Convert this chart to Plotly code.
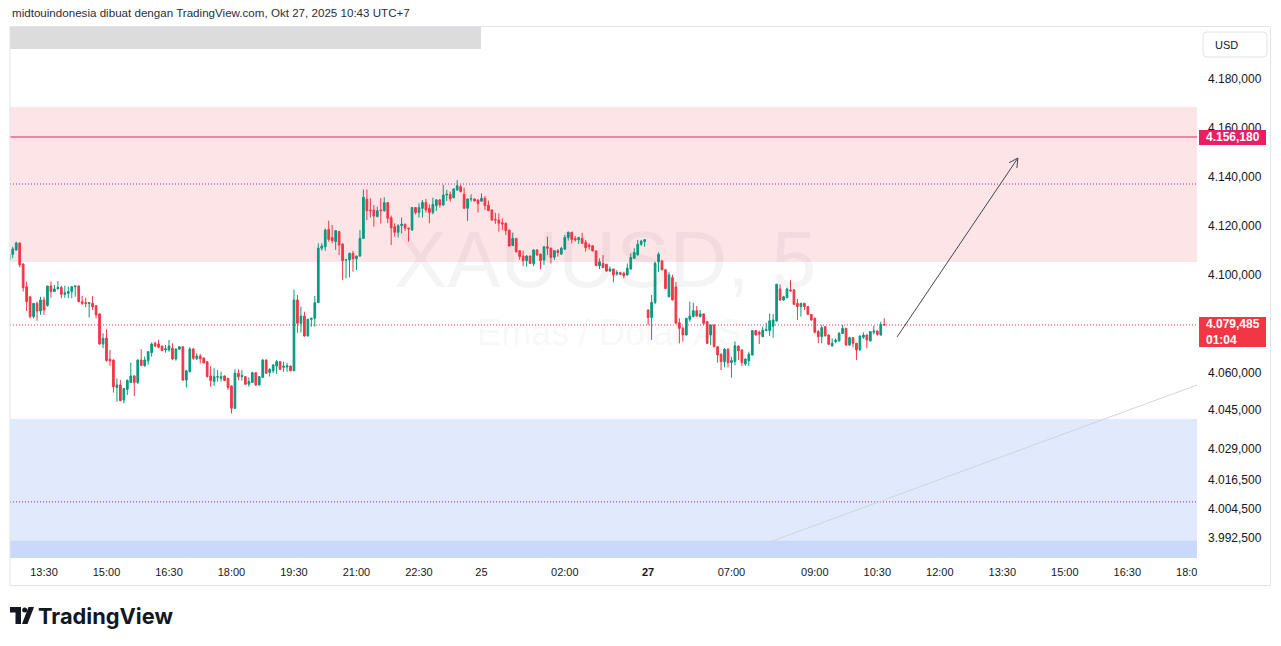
import math
import plotly.graph_objects as go

# ---------------- data (XAUUSD 5m) ----------------
bar_index = list(range(-10, 243))

opens = [
 4106.0, 4108.3, 4110.1, 4112.9, 4104.4, 4095.1, 4091.0, 4082.9, 4088.3, 4085.2,
 4089.7, 4087.4, 4095.4, 4093.1, 4094.2, 4094.8, 4092.0, 4092.4, 4093.1, 4095.1,
 4095.4, 4089.0, 4088.6, 4088.2, 4088.3, 4087.4, 4084.0, 4071.7, 4074.2, 4065.5,
 4065.2, 4054.0, 4055.0, 4048.9, 4053.2, 4056.0, 4058.7, 4056.0, 4065.2, 4062.8,
 4064.9, 4068.2, 4072.0, 4071.7, 4070.9, 4069.3, 4069.3, 4070.0, 4065.6, 4069.6,
 4070.6, 4057.0, 4060.4, 4069.7, 4065.7, 4066.8, 4066.0, 4064.5, 4058.7, 4056.4,
 4058.2, 4057.7, 4058.7, 4057.7, 4054.6, 4045.5, 4059.8, 4058.4, 4058.4, 4055.3,
 4056.0, 4060.0, 4055.0, 4058.1, 4065.2, 4060.1, 4060.8, 4062.7, 4064.5, 4062.2,
 4062.3, 4062.7, 4060.8, 4089.7, 4080.2, 4083.1, 4075.0, 4081.8, 4082.2, 4088.6,
 4110.8, 4111.4, 4118.5, 4115.2, 4113.5, 4117.6, 4112.5, 4106.0, 4106.0, 4108.7,
 4106.5, 4107.6, 4114.8, 4130.8, 4126.4, 4126.4, 4123.7, 4126.4, 4126.1, 4129.4,
 4123.2, 4119.6, 4117.3, 4120.0, 4120.6, 4119.0, 4118.2, 4127.4, 4125.4, 4127.1,
 4129.5, 4127.1, 4125.4, 4128.2, 4130.5, 4128.4, 4132.5, 4132.8, 4131.4, 4134.6,
 4135.9, 4132.8, 4127.1, 4130.9, 4130.9, 4130.5, 4130.0, 4131.2, 4128.4, 4126.4,
 4122.6, 4122.3, 4121.2, 4121.0, 4118.2, 4111.9, 4114.8, 4109.8, 4107.6, 4105.7,
 4107.6, 4104.6, 4110.1, 4108.4, 4106.0, 4111.4, 4110.8, 4107.1, 4109.8, 4108.4,
 4110.4, 4115.2, 4117.3, 4114.8, 4114.2, 4114.8, 4113.2, 4112.1, 4111.8, 4109.7,
 4103.7, 4104.6, 4104.2, 4101.5, 4102.3, 4100.3, 4100.8, 4100.6, 4099.9, 4102.3,
 4106.7, 4108.1, 4112.4, 4113.5, 4085.6, 4082.5, 4088.7, 4105.3, 4105.6, 4102.0,
 4091.0, 4098.8, 4095.0, 4080.4, 4078.1, 4075.4, 4081.8, 4082.9, 4085.3, 4082.9,
 4084.0, 4080.8, 4075.4, 4079.5, 4070.6, 4067.6, 4064.5, 4069.6, 4064.1, 4064.6,
 4070.9, 4069.3, 4063.6, 4064.9, 4067.2, 4077.2, 4076.5, 4074.7, 4077.2, 4077.2,
 4079.0, 4081.1, 4094.2, 4089.7, 4090.6, 4093.8, 4093.8, 4088.3, 4087.0, 4088.3,
 4087.0, 4083.8, 4082.2, 4076.8, 4074.7, 4078.8, 4075.4, 4071.0, 4072.7, 4073.0,
 4076.0, 4078.1, 4071.3, 4074.3, 4072.0, 4069.3, 4074.5, 4075.4, 4073.0, 4076.5,
 4077.0, 4075.4, 4079.7,
]

highs = [
 4109.0, 4111.4, 4113.5, 4113.2, 4104.6, 4097.2, 4091.0, 4088.3, 4089.0, 4091.0,
 4091.0, 4095.4, 4097.2, 4095.8, 4097.4, 4095.5, 4095.5, 4095.1, 4095.4, 4095.6,
 4095.6, 4091.4, 4090.6, 4088.8, 4091.3, 4087.6, 4084.2, 4076.1, 4077.7, 4069.3,
 4065.4, 4057.7, 4057.0, 4053.8, 4057.3, 4064.1, 4058.9, 4065.4, 4069.6, 4066.6,
 4068.8, 4072.3, 4072.7, 4073.4, 4071.0, 4071.3, 4073.4, 4072.0, 4069.9, 4070.8,
 4070.8, 4061.0, 4070.4, 4070.0, 4067.9, 4067.6, 4066.2, 4064.7, 4062.7, 4061.8,
 4061.1, 4060.4, 4058.9, 4057.9, 4054.8, 4061.4, 4061.4, 4061.1, 4058.6, 4058.1,
 4060.4, 4060.2, 4058.6, 4065.5, 4065.4, 4061.8, 4063.4, 4065.2, 4064.7, 4064.5,
 4064.1, 4062.9, 4094.0, 4091.7, 4087.0, 4084.9, 4082.0, 4082.4, 4091.3, 4112.8,
 4112.8, 4118.9, 4122.0, 4120.3, 4118.2, 4117.8, 4112.7, 4106.3, 4109.0, 4109.7,
 4107.8, 4118.2, 4134.8, 4134.8, 4131.2, 4128.4, 4127.8, 4131.2, 4131.6, 4129.6,
 4124.1, 4121.0, 4120.6, 4123.3, 4120.8, 4119.2, 4127.6, 4127.6, 4129.1, 4130.5,
 4130.9, 4128.7, 4131.4, 4130.9, 4130.9, 4136.6, 4134.6, 4133.9, 4135.2, 4138.6,
 4136.6, 4135.5, 4131.1, 4132.8, 4131.0, 4130.7, 4133.2, 4132.1, 4130.2, 4126.6,
 4125.3, 4125.0, 4123.0, 4121.2, 4118.4, 4117.1, 4115.0, 4110.0, 4109.8, 4108.0,
 4107.8, 4110.3, 4110.3, 4108.6, 4111.7, 4115.5, 4111.0, 4110.0, 4110.4, 4111.4,
 4116.2, 4117.6, 4117.5, 4115.8, 4115.4, 4117.1, 4114.2, 4112.8, 4112.0, 4109.9,
 4106.7, 4108.0, 4104.4, 4103.3, 4102.5, 4101.9, 4101.2, 4101.2, 4104.6, 4108.7,
 4110.8, 4114.2, 4114.2, 4114.5, 4085.8, 4091.7, 4105.3, 4109.1, 4106.0, 4102.2,
 4101.0, 4100.0, 4097.0, 4082.2, 4078.8, 4082.4, 4089.0, 4088.6, 4087.2, 4085.6,
 4084.2, 4081.0, 4079.7, 4079.7, 4070.8, 4067.8, 4070.0, 4070.0, 4066.5, 4072.7,
 4071.1, 4069.5, 4065.8, 4068.6, 4077.4, 4077.4, 4077.2, 4078.8, 4080.4, 4084.2,
 4084.0, 4096.3, 4096.1, 4091.4, 4094.7, 4097.8, 4094.2, 4090.1, 4088.5, 4088.5,
 4087.2, 4084.0, 4082.5, 4077.4, 4079.5, 4078.9, 4075.6, 4074.0, 4074.0, 4076.5,
 4079.5, 4078.3, 4074.7, 4074.5, 4072.2, 4075.2, 4076.5, 4075.6, 4077.0, 4079.2,
 4077.4, 4080.8, 4082.2,
]

lows = [
 4105.5, 4106.7, 4109.7, 4103.0, 4093.1, 4085.2, 4082.2, 4082.2, 4081.2, 4083.6,
 4083.6, 4087.0, 4090.6, 4093.0, 4094.0, 4090.4, 4090.6, 4090.4, 4090.4, 4091.0,
 4088.8, 4087.6, 4086.7, 4082.5, 4085.6, 4082.2, 4071.5, 4070.0, 4064.5, 4062.8,
 4051.9, 4048.2, 4048.4, 4047.5, 4050.9, 4055.8, 4050.5, 4055.4, 4062.8, 4062.5,
 4063.2, 4066.6, 4070.4, 4070.0, 4068.9, 4068.2, 4068.6, 4065.2, 4064.9, 4069.4,
 4056.8, 4054.0, 4060.2, 4065.2, 4065.2, 4063.8, 4063.8, 4058.1, 4054.3, 4054.6,
 4056.4, 4056.4, 4056.6, 4053.0, 4043.4, 4045.3, 4057.0, 4056.8, 4055.0, 4054.3,
 4055.9, 4054.6, 4054.9, 4058.0, 4059.6, 4058.4, 4059.8, 4059.5, 4061.2, 4060.4,
 4060.4, 4060.6, 4060.6, 4076.3, 4076.4, 4074.7, 4074.8, 4078.8, 4078.8, 4088.4,
 4109.8, 4109.8, 4113.5, 4112.8, 4110.1, 4108.0, 4097.8, 4098.5, 4098.9, 4101.2,
 4101.9, 4107.4, 4114.6, 4122.3, 4123.4, 4119.6, 4123.4, 4120.9, 4125.7, 4121.0,
 4112.1, 4115.5, 4115.1, 4116.9, 4117.8, 4113.5, 4118.0, 4124.6, 4123.3, 4123.3,
 4125.4, 4121.0, 4124.6, 4126.0, 4127.4, 4128.2, 4130.1, 4129.8, 4131.2, 4134.2,
 4133.6, 4126.9, 4121.9, 4129.8, 4129.9, 4125.4, 4129.8, 4126.4, 4126.1, 4122.1,
 4120.7, 4117.6, 4118.2, 4116.2, 4111.5, 4111.7, 4109.0, 4106.0, 4103.5, 4103.3,
 4104.4, 4103.5, 4107.8, 4102.2, 4104.0, 4108.0, 4104.6, 4106.0, 4107.4, 4108.0,
 4110.2, 4113.9, 4112.8, 4113.5, 4112.5, 4112.6, 4109.4, 4110.1, 4109.5, 4103.5,
 4102.3, 4102.7, 4101.2, 4101.2, 4096.9, 4099.6, 4099.9, 4098.5, 4099.7, 4102.1,
 4106.5, 4107.8, 4111.8, 4111.4, 4079.5, 4073.4, 4088.0, 4101.2, 4101.8, 4094.2,
 4090.8, 4089.5, 4080.0, 4072.0, 4072.7, 4075.2, 4080.8, 4082.6, 4082.9, 4082.6,
 4079.5, 4071.7, 4071.3, 4070.4, 4064.1, 4061.1, 4062.2, 4062.2, 4058.0, 4063.0,
 4065.2, 4062.7, 4062.8, 4062.8, 4067.0, 4075.2, 4071.7, 4074.5, 4077.0, 4075.0,
 4074.3, 4080.9, 4089.3, 4089.3, 4090.4, 4093.1, 4087.6, 4081.5, 4082.9, 4085.6,
 4083.6, 4081.3, 4076.1, 4072.0, 4072.0, 4074.7, 4071.3, 4070.6, 4072.0, 4072.7,
 4075.8, 4071.0, 4071.0, 4070.3, 4065.2, 4069.1, 4073.8, 4070.0, 4072.8, 4075.7,
 4075.1, 4075.2, 4079.3,
]

closes = [
 4108.4, 4110.5, 4112.9, 4104.0, 4094.7, 4089.0, 4082.9, 4088.3, 4085.2, 4089.7,
 4085.6, 4095.4, 4093.1, 4094.2, 4094.8, 4092.0, 4092.6, 4093.1, 4095.1, 4095.4,
 4089.0, 4088.3, 4088.3, 4088.6, 4086.9, 4083.6, 4071.7, 4074.0, 4065.0, 4064.8,
 4054.3, 4055.0, 4048.6, 4053.6, 4056.8, 4058.7, 4056.0, 4065.2, 4063.0, 4065.2,
 4068.6, 4071.7, 4070.9, 4070.4, 4069.0, 4069.8, 4070.9, 4065.6, 4069.7, 4070.6,
 4057.0, 4060.8, 4069.7, 4065.9, 4066.8, 4065.7, 4064.0, 4058.4, 4056.8, 4058.4,
 4058.4, 4058.4, 4056.8, 4054.0, 4045.5, 4059.8, 4058.4, 4058.8, 4055.3, 4056.4,
 4060.0, 4055.0, 4058.4, 4065.2, 4059.8, 4061.4, 4063.2, 4064.5, 4061.4, 4062.7,
 4062.8, 4060.8, 4089.7, 4080.2, 4083.1, 4075.0, 4081.8, 4082.2, 4088.6, 4110.8,
 4111.7, 4118.2, 4114.4, 4113.9, 4118.0, 4112.1, 4105.7, 4106.1, 4108.7, 4106.5,
 4107.6, 4114.8, 4131.6, 4126.1, 4126.1, 4123.9, 4126.1, 4126.1, 4129.4, 4123.0,
 4119.1, 4117.3, 4120.0, 4120.6, 4119.0, 4118.7, 4127.4, 4125.4, 4127.4, 4129.5,
 4126.4, 4125.4, 4128.7, 4130.5, 4128.4, 4132.5, 4132.8, 4130.9, 4135.0, 4136.3,
 4133.9, 4127.1, 4130.9, 4131.0, 4130.1, 4129.0, 4131.2, 4128.2, 4126.1, 4122.3,
 4122.3, 4121.0, 4120.7, 4118.0, 4111.7, 4114.8, 4109.4, 4107.4, 4105.7, 4107.6,
 4104.6, 4110.1, 4108.0, 4105.7, 4111.4, 4110.8, 4107.1, 4109.8, 4109.0, 4110.8,
 4115.2, 4117.3, 4114.4, 4114.2, 4115.2, 4112.8, 4111.0, 4111.4, 4109.7, 4103.7,
 4105.3, 4102.9, 4101.5, 4102.3, 4099.9, 4100.9, 4100.2, 4099.6, 4102.6, 4107.0,
 4109.1, 4112.4, 4113.7, 4114.3, 4082.5, 4088.7, 4104.6, 4108.3, 4102.0, 4094.4,
 4099.9, 4089.7, 4080.2, 4078.1, 4075.4, 4082.2, 4083.1, 4085.3, 4083.1, 4084.0,
 4080.2, 4072.0, 4079.5, 4070.6, 4067.2, 4064.5, 4069.6, 4064.1, 4065.0, 4071.0,
 4069.0, 4064.1, 4065.6, 4067.6, 4077.2, 4075.4, 4075.7, 4077.4, 4077.7, 4081.2,
 4081.5, 4096.1, 4089.7, 4091.0, 4094.2, 4093.4, 4087.9, 4087.0, 4088.3, 4087.0,
 4083.8, 4081.5, 4076.5, 4074.7, 4078.4, 4075.1, 4071.6, 4072.0, 4073.3, 4076.1,
 4078.1, 4071.3, 4074.3, 4072.0, 4069.3, 4075.0, 4075.4, 4073.4, 4076.8, 4077.0,
 4075.7, 4079.7, 4079.485,
]

time_tick_bars = [0, 18, 36, 54, 72, 90, 108, 126, 150, 174, 198, 222, 240, 258, 276, 294, 312, 330]
time_tick_labels = ["13:30", "15:00", "16:30", "18:00", "19:30", "21:00", "22:30", "25", "02:00",
                    "<b>27</b>", "07:00", "09:00", "10:30", "12:00", "13:30", "15:00", "16:30", "18:00"]
price_ticks = [4180, 4160, 4140, 4120, 4100, 4060, 4045, 4029, 4016.5, 4004.5, 3992.5]

# drawing levels (price) and drawing anchor points (bar, price)
resistance_zone = [4105.2, 4168.4]
resistance_mid = 4137.0
target_level = 4156.18
support_zone = [3980.0, 4041.1]
support_band = [3980.0, 3991.4]
support_mid = 4007.3
last_price = 4079.485
countdown = "01:04"
trend_pts = [(209.1, 3991.0), (332.1, 4055.0)]
arrow_pts = [(245.7, 4074.6), (280.5, 4147.6)]

# ---------------- layout geometry ----------------
W, H = 1281, 646
PL, PR, PT, PB = 10, 1197, 27, 558
X_RANGE = [-9.79, 332.08]
Y_RANGE = [3984.41, 4201.06]
px_x = (PR - PL) / (X_RANGE[1] - X_RANGE[0])
px_y = (PB - PT) / (Y_RANGE[1] - Y_RANGE[0])


def PX(px):
    return (px - PL) / (PR - PL)


def PY(py):
    return (PB - py) / (PB - PT)


def idr(v):
    s = f"{v:,.3f}"
    return s.replace(",", "_").replace(".", ",").replace("_", ".")


GREEN = "#089981"
RED = "#f23645"
TXT = "#131722"
FONT = "Liberation Sans, Arial, sans-serif"
DOT = "1px,2px"

fig = go.Figure()

# watermark (behind candles)
fig.add_trace(go.Scatter(
    x=[X_RANGE[0] + (605 - PL) / px_x, X_RANGE[0] + (609 - PL) / px_x],
    y=[Y_RANGE[1] - (267 - PT) / px_y, Y_RANGE[1] - (336 - PT) / px_y],
    mode="text", text=["XAUUSD, 5", "Emas / Dolar AS"],
    textfont=dict(size=[80, 36], color="rgba(42,46,57,0.05)", family=FONT),
    hoverinfo="skip", showlegend=False))

fig.add_trace(go.Candlestick(
    x=bar_index, open=opens, high=highs, low=lows, close=closes,
    increasing=dict(line=dict(color=GREEN, width=1), fillcolor=GREEN),
    decreasing=dict(line=dict(color=RED, width=1), fillcolor=RED),
    whiskerwidth=0, hoverinfo="skip", showlegend=False))

shapes = []
# zones
shapes.append(dict(type="rect", xref="paper", yref="y", x0=0, x1=1,
                   y0=resistance_zone[0], y1=resistance_zone[1],
                   fillcolor="#fde4e7", line=dict(width=0), layer="below"))
shapes.append(dict(type="rect", xref="paper", yref="y", x0=0, x1=1,
                   y0=support_zone[0], y1=support_zone[1],
                   fillcolor="#e1e9fd", line=dict(width=0), layer="below"))
shapes.append(dict(type="rect", xref="paper", yref="y", x0=0, x1=1,
                   y0=support_band[0], y1=support_band[1],
                   fillcolor="#c9d8fb", line=dict(width=0), layer="below"))
# levels
shapes.append(dict(type="line", xref="paper", yref="y", x0=0, x1=1,
                   y0=resistance_mid, y1=resistance_mid,
                   line=dict(color="#9c27b0", width=1, dash=DOT), layer="below"))
shapes.append(dict(type="line", xref="paper", yref="y", x0=0, x1=1,
                   y0=support_mid, y1=support_mid,
                   line=dict(color="#9c27b0", width=1, dash=DOT), layer="below"))
shapes.append(dict(type="line", xref="paper", yref="y", x0=0, x1=1,
                   y0=target_level, y1=target_level,
                   line=dict(color="#e91e63", width=1), layer="below"))
shapes.append(dict(type="line", xref="paper", yref="y", x0=0, x1=1,
                   y0=last_price, y1=last_price,
                   line=dict(color=RED, width=1, dash=DOT), layer="below"))
# trend line
shapes.append(dict(type="line", xref="x", yref="y",
                   x0=trend_pts[0][0], y0=trend_pts[0][1], x1=trend_pts[1][0], y1=trend_pts[1][1],
                   line=dict(color="#d1d4dc", width=1), layer="below"))
# arrow
(ax0, ay0), (ax1, ay1) = arrow_pts
shapes.append(dict(type="line", xref="x", yref="y", x0=ax0, y0=ay0, x1=ax1, y1=ay1,
                   line=dict(color="#434651", width=1)))
dxp = (ax1 - ax0) * px_x
dyp = -(ay1 - ay0) * px_y
ln = math.hypot(dxp, dyp)
bx, by = -dxp / ln, -dyp / ln
for ang in (28, -28):
    a = math.radians(ang)
    rx = bx * math.cos(a) - by * math.sin(a)
    ry = bx * math.sin(a) + by * math.cos(a)
    shapes.append(dict(type="line", xref="x", yref="y", x0=ax1, y0=ay1,
                       x1=ax1 + rx * 10 / px_x, y1=ay1 - ry * 10 / px_y,
                       line=dict(color="#434651", width=1)))

# cover for tick label overflow past price axis
shapes.append(dict(type="rect", xref="paper", yref="paper", x0=PX(1197), x1=PX(1269),
                   y0=PY(584), y1=PY(559), fillcolor="white", line=dict(width=0), layer="above"))
# redaction bar
shapes.append(dict(type="rect", xref="paper", yref="paper", x0=PX(10), x1=PX(481),
                   y0=PY(49), y1=PY(27), fillcolor="#dcdcdc", line=dict(width=0), layer="above"))
# frame
shapes.append(dict(type="rect", xref="paper", yref="paper", x0=PX(10), x1=PX(1270.5),
                   y0=PY(585.5), y1=PY(26.5), fillcolor="rgba(0,0,0,0)",
                   line=dict(color="#e0e3eb", width=1), layer="above"))
# price labels
shapes.append(dict(type="rect", xref="paper", yref="paper", x0=PX(1199), x1=PX(1266),
                   y0=PY(145), y1=PY(130), fillcolor="#e91e63", line=dict(width=0), layer="above"))
shapes.append(dict(type="rect", xref="paper", yref="paper", x0=PX(1199), x1=PX(1266),
                   y0=PY(347), y1=PY(317), fillcolor=RED, line=dict(width=0), layer="above"))
# USD box (rounded)
r = 4
x0, x1, y0, y1 = 1203, 1267, 32, 57
path = (f"M{PX(x0 + r)},{PY(y0)} L{PX(x1 - r)},{PY(y0)} Q{PX(x1)},{PY(y0)} {PX(x1)},{PY(y0 + r)} "
        f"L{PX(x1)},{PY(y1 - r)} Q{PX(x1)},{PY(y1)} {PX(x1 - r)},{PY(y1)} "
        f"L{PX(x0 + r)},{PY(y1)} Q{PX(x0)},{PY(y1)} {PX(x0)},{PY(y1 - r)} "
        f"L{PX(x0)},{PY(y0 + r)} Q{PX(x0)},{PY(y0)} {PX(x0 + r)},{PY(y0)} Z")
shapes.append(dict(type="path", xref="paper", yref="paper", path=path,
                   fillcolor="white", line=dict(color="#e0e3eb", width=1), layer="above"))


# TradingView logo glyph
def pp(points):
    return "M" + " L".join(f"{PX(a)},{PY(b)}" for a, b in points) + " Z"


shapes.append(dict(type="path", xref="paper", yref="paper",
                   path=pp([(10, 607), (21, 607), (21, 624), (15.5, 624), (15.5, 612.5), (10, 612.5)]),
                   fillcolor=TXT, line=dict(width=0), layer="above"))
shapes.append(dict(type="circle", xref="paper", yref="paper",
                   x0=PX(22.2), x1=PX(27.2), y0=PY(612.5), y1=PY(607.5),
                   fillcolor=TXT, line=dict(width=0), layer="above"))
shapes.append(dict(type="path", xref="paper", yref="paper",
                   path=pp([(28.5, 607), (34, 607), (27.5, 624), (22, 624)]),
                   fillcolor=TXT, line=dict(width=0), layer="above"))

annotations = [
    dict(xref="paper", yref="paper", x=PX(10), y=PY(13), xanchor="left", yanchor="middle",
         text="midtouindonesia dibuat dengan TradingView.com, Okt 27, 2025 10:43 UTC+7",
         showarrow=False, font=dict(family=FONT, size=11.6, color="#2a2e39")),
    dict(xref="paper", yref="paper", x=PX(1232.5), y=PY(137.5), xanchor="center", yanchor="middle",
         text=idr(target_level), showarrow=False,
         font=dict(family=FONT, size=12, color="white", weight="bold")),
    dict(xref="paper", yref="paper", x=PX(1232.5), y=PY(332), xanchor="center", yanchor="middle",
         text=idr(last_price) + "<br>" + countdown, showarrow=False, align="left",
         font=dict(family=FONT, size=12, color="white", weight="bold")),
    dict(xref="paper", yref="paper", x=PX(1213), y=PY(44.5), xanchor="left", yanchor="middle",
         text="USD", showarrow=False, font=dict(family=FONT, size=11, color=TXT)),
    dict(xref="paper", yref="paper", x=PX(36), y=PY(616), xanchor="left", yanchor="middle",
         text="TradingView", showarrow=False,
         font=dict(family="Inter, Lato, sans-serif", size=21.8, color=TXT, weight="bold")),
]

fig.update_layout(
    width=W, height=H,
    margin=dict(l=PL, r=W - PR, t=PT, b=H - PB, pad=0),
    paper_bgcolor="white", plot_bgcolor="white",
    showlegend=False, hovermode=False,
    shapes=shapes, annotations=annotations,
    xaxis=dict(range=X_RANGE, showgrid=False, zeroline=False, showline=False,
               ticks="", tickvals=time_tick_bars, ticktext=time_tick_labels,
               tickfont=dict(family=FONT, size=11, color=TXT),
               ticklabelstandoff=6, rangeslider=dict(visible=False), fixedrange=True),
    yaxis=dict(range=Y_RANGE, side="right", showgrid=False, zeroline=False, showline=False,
               ticks="", tickvals=price_ticks, ticktext=[idr(v) for v in price_ticks],
               tickfont=dict(family=FONT, size=12, color=TXT),
               ticklabelstandoff=10, fixedrange=True),
)

fig.write_html("out.html", config={"displayModeBar": False, "staticPlot": True},
               post_script="document.body.style.margin='0';document.body.style.overflow='hidden';")
